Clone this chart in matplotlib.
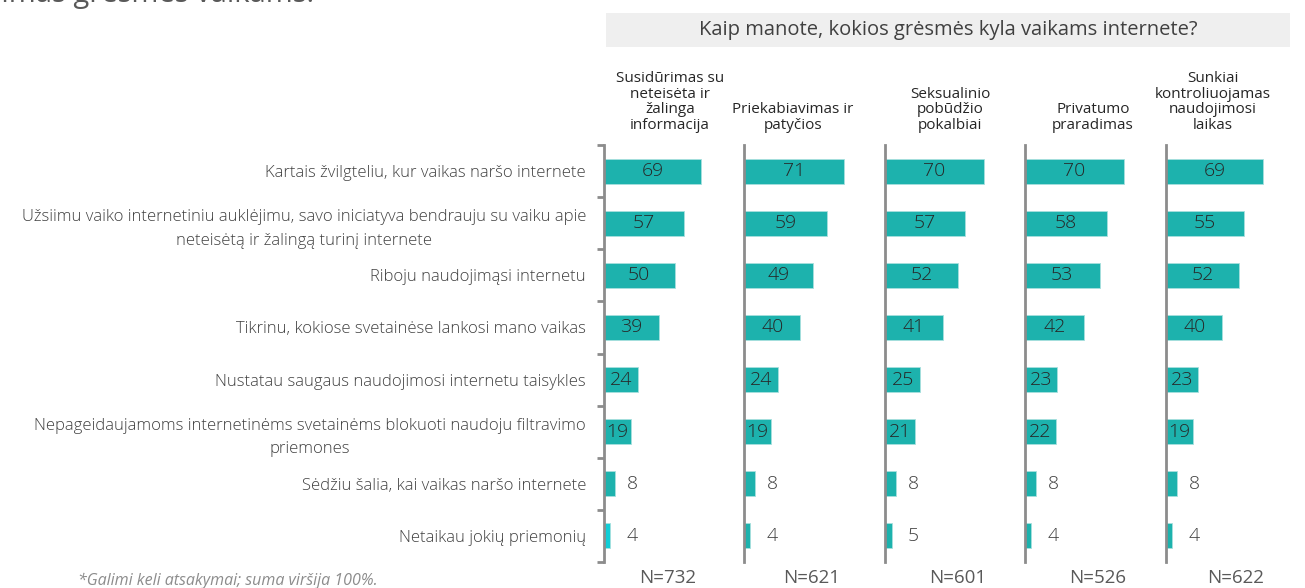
import matplotlib
matplotlib.use("Agg")
import matplotlib.pyplot as plt
from matplotlib.patches import Rectangle
import numpy as np

plt.rcParams["font.family"] = ["Open Sans", "DejaVu Sans"]

TITLE = "Kaip manote, kokios grėsmės kyla vaikams internete?"
COLUMNS = [
    "Susidūrimas su\nneteisėta ir\nžalinga\ninformacija",
    "Priekabiavimas ir\npatyčios",
    "Seksualinio\npobūdžio\npokalbiai",
    "Privatumo\npraradimas",
    "Sunkiai\nkontroliuojamas\nnaudojimosi\nlaikas",
]
CATEGORIES = [
    "Kartais žvilgteliu, kur vaikas naršo internete",
    "Užsiimu vaiko internetiniu auklėjimu, savo iniciatyva bendrauju su vaiku apie\nneteisėtą ir žalingą turinį internete",
    "Riboju naudojimąsi internetu",
    "Tikrinu, kokiose svetainėse lankosi mano vaikas",
    "Nustatau saugaus naudojimosi internetu taisykles",
    "Nepageidaujamoms internetinėms svetainėms blokuoti naudoju filtravimo\npriemones",
    "Sėdžiu šalia, kai vaikas naršo internete",
    "Netaikau jokių priemonių",
]
VALUES = [
    [69, 57, 50, 39, 24, 19, 8, 4],
    [71, 59, 49, 40, 24, 19, 8, 4],
    [70, 57, 52, 41, 25, 21, 8, 5],
    [70, 58, 53, 42, 23, 22, 8, 4],
    [69, 55, 52, 40, 23, 19, 8, 4],
]
N_LABELS = ["N=732", "N=621", "N=601", "N=526", "N=622"]

W, H = 1305, 588
TEAL = "#1db2ad"
CYAN = "#10cdd6"
GREY = "#8c8c8c"

fig = plt.figure(figsize=(W / 100, H / 100), dpi=100)

# partially clipped title from the slide above
fig.text(-0.004, 1 - 2 / H, "jimas grėsmės vaikams.", fontsize=21, color="#595959",
         va="baseline", ha="left")

# grey header band
fig.patches.append(Rectangle((606 / W, 1 - 47 / H), 684 / W, 34 / H,
                             transform=fig.transFigure, facecolor="#efefef",
                             edgecolor="none", zorder=0))
fig.text(948 / W, 1 - 30 / H, TITLE, fontsize=14.5, color="#404040",
         ha="center", va="center")

lefts = [604, 744, 885, 1025, 1166]
head_x = [670, 793, 950, 1093, 1213]
n_x = [668, 812, 958, 1098, 1236]
y = np.arange(len(CATEGORIES))

for i, vals in enumerate(VALUES):
    ax = fig.add_axes([lefts[i] / W, 1 - 562 / H, 141 / W, 417 / H])
    colors = [TEAL] * len(vals)
    if i == 0:
        colors[-1] = CYAN
    ax.barh(y, vals, height=0.48, color=colors, edgecolor="#a8e0de", linewidth=0.6)
    ax.set_xlim(0, 100)
    ax.set_ylim(len(CATEGORIES) - 0.5, -0.5)
    for s in ("top", "right", "bottom"):
        ax.spines[s].set_visible(False)
    ax.spines["left"].set_color(GREY)
    ax.spines["left"].set_linewidth(2)
    ax.set_xticks([])
    for j, v in enumerate(vals):
        if v >= 10:
            ax.text(v / 2, j, str(v), ha="center", va="center", fontsize=14,
                    color="#262626", fontweight="light")
        else:
            ax.text(20, j, str(v), ha="center", va="center", fontsize=14,
                    color="#404040", fontweight="light")
    if i == 0:
        ax.set_yticks(y)
        ax.set_yticklabels(CATEGORIES, fontsize=12, color="#404040",
                           fontweight="light")
        for t in ax.get_yticklabels():
            t.set_multialignment("center")
            t.set_linespacing(1.65)
        ax.tick_params(axis="y", which="major", length=0, pad=13)
        ax.set_yticks(np.arange(-0.5, len(CATEGORIES)), minor=True)
        ax.tick_params(axis="y", which="minor", length=5, width=2, color=GREY)
    else:
        ax.set_yticks([])
    fig.text(head_x[i] / W, 1 - 133 / H, COLUMNS[i], fontsize=11,
             color="#262626", ha="center", va="bottom", linespacing=1.05)
    fig.text(n_x[i] / W, 1 - 578 / H, N_LABELS[i], fontsize=13.5,
             color="#595959", ha="center", va="center")

fig.text(78 / W, 1 - 581 / H, "*Galimi keli atsakymai; suma viršija 100%.",
         fontsize=11.5, style="italic", color="#8c8c8c", ha="left", va="center")

fig.savefig("out.png", dpi=100)
